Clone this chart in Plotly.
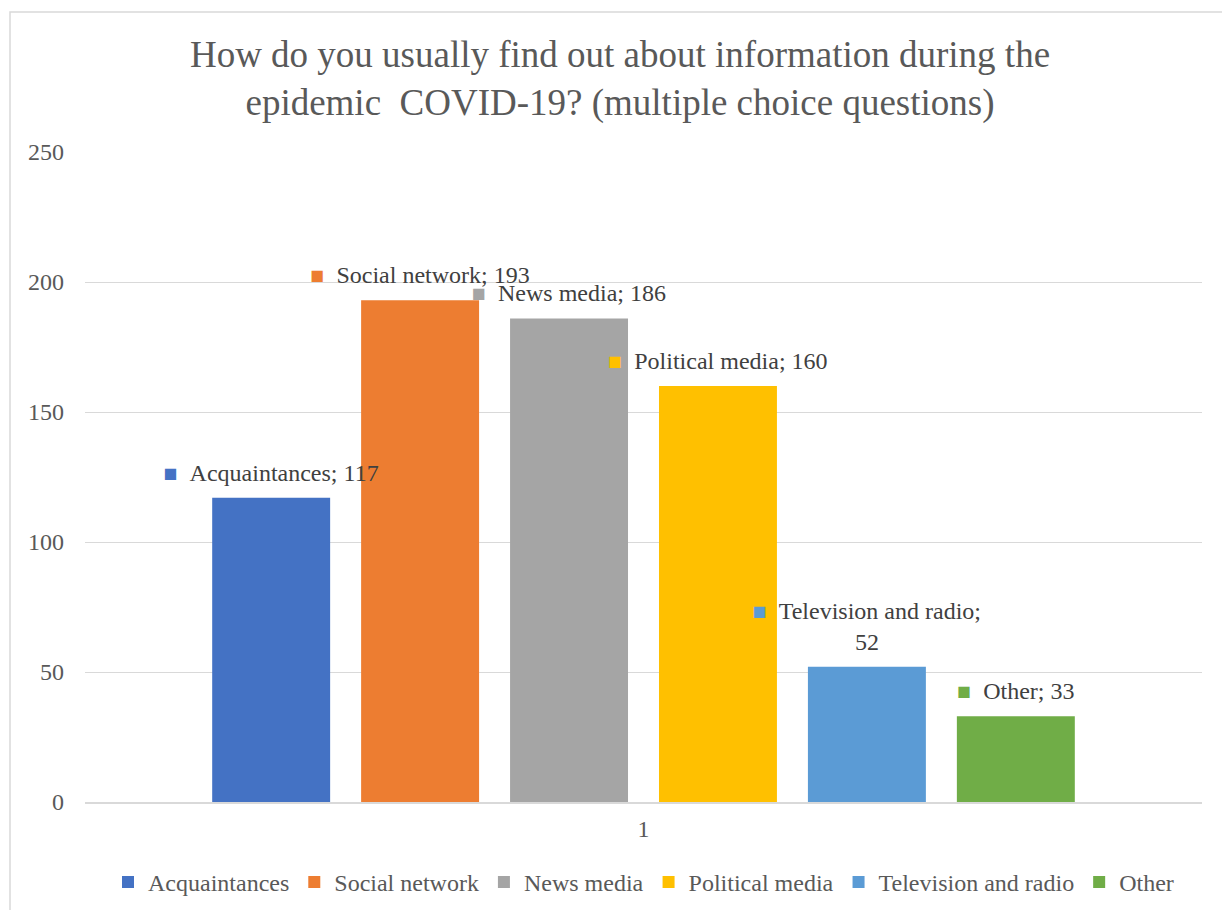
import plotly.graph_objects as go

# Survey answers: how respondents get information during COVID-19
categories = ["Acquaintances", "Social network", "News media",
              "Political media", "Television and radio", "Other"]
counts = [117, 193, 186, 160, 52, 33]
colors = ["#4472C4", "#ED7D31", "#A5A5A5", "#FFC000", "#5B9BD5", "#70AD47"]
group_label = ["1"]

FONT = "Liberation Serif, Times New Roman, serif"
TEXT_GREY = "#595959"
LABEL_GREY = "#404040"
GRID = "#D9D9D9"

W, H = 1222, 910
ML, MR, MT, MB = 85, 20, 152, 108
PW, PH = W - ML - MR, H - MT - MB

BARGAP = 0.2

fig = go.Figure()

for i, (name, val, col) in enumerate(zip(categories, counts, colors)):
    fig.add_trace(go.Bar(
        x=group_label, y=[val], name=name,
        marker=dict(color=col, line=dict(width=0)),
        offsetgroup=str(i), hoverinfo="skip",
    ))

# Data labels with a colour key, set just above each bar
for i, (name, val, col) in enumerate(zip(categories, counts, colors)):
    sep = ";<br>" if name == "Television and radio" else "; "
    label = (f"<span style='color:{col};font-size:23px'>■</span>\u00a0\u00a0"
             f"{name}{sep}{val}")
    fig.add_trace(go.Scatter(
        x=group_label, y=[val], mode="markers+text",
        marker=dict(size=16, opacity=0),
        text=[label], textposition="top center",
        textfont=dict(family=FONT, size=24, color=LABEL_GREY),
        offsetgroup=str(i), showlegend=False, hoverinfo="skip",
        cliponaxis=False,
    ))

# Outer chart border (left and top edges visible in the frame)
fig.add_shape(
    type="rect", xref="paper", yref="paper",
    x0=(10 - ML) / PW, x1=(W + 20 - ML) / PW,
    y0=-(H + 20 - MT - PH) / PH, y1=(MT + PH - 12) / PH,
    line=dict(color=GRID, width=1.5), fillcolor="rgba(0,0,0,0)",
    layer="below",
)

fig.update_layout(
    width=W, height=H,
    margin=dict(l=ML, r=MR, t=MT, b=MB, autoexpand=False),
    paper_bgcolor="white", plot_bgcolor="white",
    barmode="group", bargap=BARGAP, bargroupgap=0.208,
    scattermode="group", scattergap=BARGAP,
    font=dict(family=FONT, color=TEXT_GREY),
    title=dict(
        text="How do you usually find out about information during the<br>"
             "epidemic \u00a0COVID-19? (multiple choice questions)",
        font=dict(family=FONT, size=37, color=TEXT_GREY),
        x=620 / W, xanchor="center", xref="container",
        y=1 - 67 / H, yanchor="middle", yref="container",
    ),
    xaxis=dict(
        type="category", showgrid=False, showline=True,
        linecolor=GRID, linewidth=1.5, ticks="",
        tickfont=dict(family=FONT, size=24, color=TEXT_GREY),
        ticklabelstandoff=4, fixedrange=True,
    ),
    yaxis=dict(
        range=[0, 250], dtick=50, showgrid=True, gridcolor=GRID,
        gridwidth=1, zeroline=False, showline=False, ticks="",
        tickfont=dict(family=FONT, size=24, color=TEXT_GREY),
        ticklabelstandoff=20, fixedrange=True,
    ),
    legend=dict(
        orientation="h", x=0.5, xanchor="center",
        y=-0.089, yanchor="top",
        font=dict(family=FONT, size=24, color=TEXT_GREY),
        itemwidth=30, bgcolor="rgba(0,0,0,0)",
    ),
    showlegend=True,
)

fig.write_html("out.html")
